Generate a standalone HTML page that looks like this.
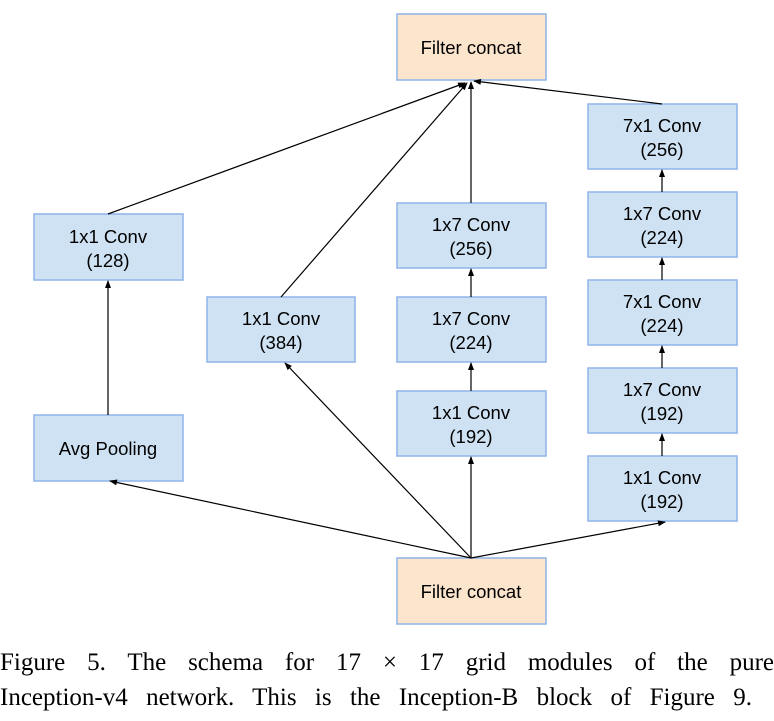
<!DOCTYPE html>
<html><head><style>
body{margin:0;width:774px;height:721px;background:#fff;overflow:hidden;position:relative}
svg{position:absolute;left:0;top:0}
.cap{position:absolute;left:0;width:774px;font-family:"Liberation Serif",serif;font-size:25px;color:#000;text-align:justify;text-align-last:justify;line-height:35px;top:645px;white-space:nowrap}
</style></head><body>
<svg width="774" height="721" xmlns="http://www.w3.org/2000/svg">
<defs><marker id="a" markerWidth="8" markerHeight="8" refX="7" refY="4" orient="auto" markerUnits="userSpaceOnUse"><path d="M0,1 L8,4 L0,7 z" fill="#000"/></marker></defs>
<g font-family="Liberation Sans, sans-serif" font-size="18.5" text-anchor="middle" fill="#000">
<g stroke="#8fb4e8" stroke-width="1.5">
<rect x="397" y="14" width="149" height="66" fill="#fce5cd"/>
<rect x="397" y="558" width="149" height="66" fill="#fce5cd"/>
<rect x="34" y="214" width="149" height="66" fill="#cfe2f3"/>
<rect x="34" y="415" width="149" height="66" fill="#cfe2f3"/>
<rect x="207" y="297" width="148" height="65" fill="#cfe2f3"/>
<rect x="397" y="203" width="149" height="65" fill="#cfe2f3"/>
<rect x="397" y="297" width="149" height="65" fill="#cfe2f3"/>
<rect x="397" y="391" width="149" height="65" fill="#cfe2f3"/>
<rect x="588" y="104" width="149" height="65" fill="#cfe2f3"/>
<rect x="588" y="192" width="149" height="65" fill="#cfe2f3"/>
<rect x="588" y="280" width="149" height="65" fill="#cfe2f3"/>
<rect x="588" y="368" width="149" height="65" fill="#cfe2f3"/>
<rect x="588" y="456" width="149" height="65" fill="#cfe2f3"/>
</g>
<text x="471" y="54">Filter concat</text>
<text x="471" y="598">Filter concat</text>
<text x="108" y="243">1x1 Conv</text><text x="108" y="267">(128)</text>
<text x="108" y="455">Avg Pooling</text>
<text x="281" y="325">1x1 Conv</text><text x="281" y="349">(384)</text>
<text x="471" y="231">1x7 Conv</text><text x="471" y="255">(256)</text>
<text x="471" y="325">1x7 Conv</text><text x="471" y="349">(224)</text>
<text x="471" y="419">1x1 Conv</text><text x="471" y="443">(192)</text>
<text x="662" y="132">7x1 Conv</text><text x="662" y="156">(256)</text>
<text x="662" y="220">1x7 Conv</text><text x="662" y="244">(224)</text>
<text x="662" y="308">7x1 Conv</text><text x="662" y="332">(224)</text>
<text x="662" y="396">1x7 Conv</text><text x="662" y="420">(192)</text>
<text x="662" y="484">1x1 Conv</text><text x="662" y="508">(192)</text>
</g>
<g stroke="#000" stroke-width="1.2" fill="none" marker-end="url(#a)">
<line x1="108" y1="214" x2="465" y2="83"/>
<line x1="281" y1="297" x2="467" y2="83"/>
<line x1="471" y1="203" x2="471" y2="82"/>
<line x1="662" y1="104" x2="474" y2="81"/>
<line x1="108" y1="415" x2="108" y2="281"/>
<line x1="471" y1="297" x2="471" y2="269"/>
<line x1="471" y1="391" x2="471" y2="363"/>
<line x1="662" y1="192" x2="662" y2="170"/>
<line x1="662" y1="280" x2="662" y2="258"/>
<line x1="662" y1="368" x2="662" y2="346"/>
<line x1="662" y1="456" x2="662" y2="434"/>
<line x1="471" y1="558" x2="110" y2="481"/>
<line x1="471" y1="558" x2="285" y2="363"/>
<line x1="471" y1="558" x2="471" y2="457"/>
<line x1="471" y1="558" x2="665" y2="522"/>
</g>
</svg>
<div class="cap">Figure 5. The schema for 17 × 17 grid modules of the pure</div>
<div class="cap" style="top:680px;width:752px">Inception-v4 network. This is the Inception-B block of Figure 9.</div>
</body></html>
